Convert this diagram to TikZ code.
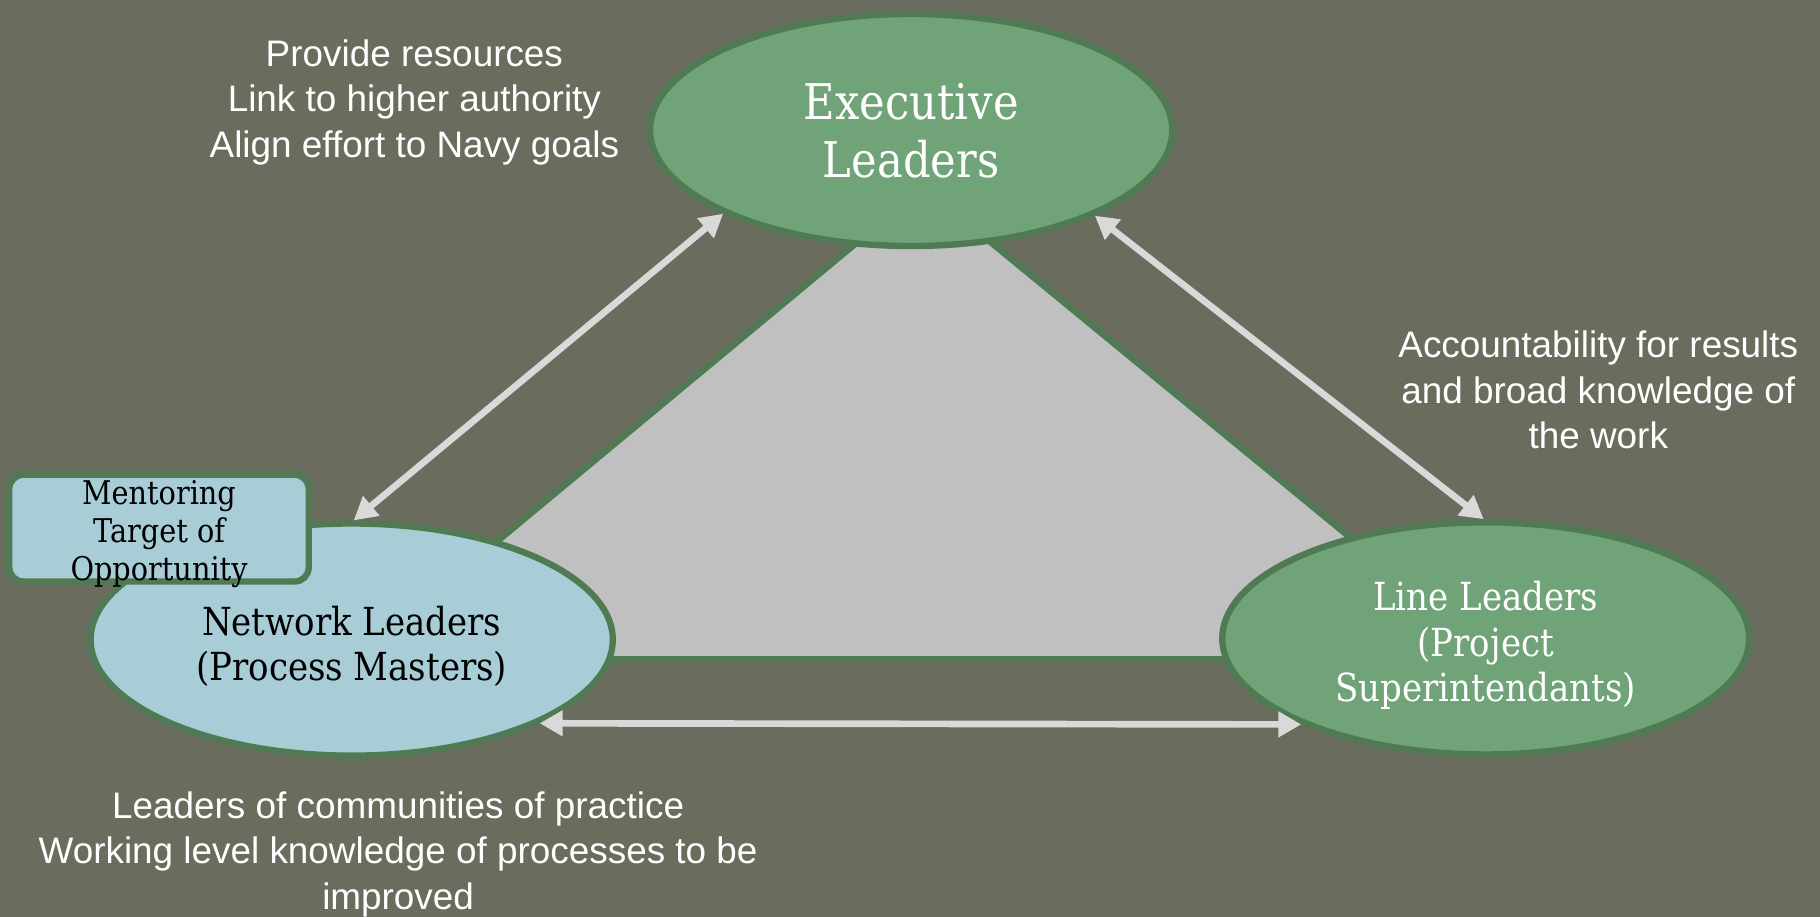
\documentclass[tikz,border=0pt]{standalone}
\usepackage{fontspec}
\setmainfont{Liberation Sans}
\newfontfamily\slabfont[FakeStretch=0.88]{DejaVu Serif}
\usetikzlibrary{shapes.geometric,arrows.meta}
\definecolor{bgc}{RGB}{106,108,94}
\definecolor{egreen}{RGB}{112,163,120}
\definecolor{bgreen}{RGB}{80,122,84}
\definecolor{lblue}{RGB}{168,205,214}
\definecolor{tgray}{RGB}{192,192,192}
\definecolor{agray}{RGB}{217,217,217}
\newlength{\pxu}
\setlength{\pxu}{0.3303pt}
\tikzset{
  leader/.style={ellipse, draw=bgreen, line width=1.8pt, inner sep=0pt,
    minimum width=450\pxu, minimum height=200\pxu},
  intext/.style={align=center, inner sep=0pt, font=\slabfont\fontsize{11}{12.9}\selectfont},
  note/.style={text=white, align=center, font=\fontsize{10.5}{12.9}\selectfont},
  link/.style={draw=agray, line width=1.9pt, {Triangle[length=6.5pt,width=7pt]}-{Triangle[length=6.5pt,width=7pt]}},
}
\begin{document}
\begin{tikzpicture}[x=0.011607cm, y=-0.011607cm]
\fill[bgc] (0,0) rectangle (1568,790);
\useasboundingbox (0,0) rectangle (1568,790);
% trapezoid
\draw[fill=tgray, draw=bgreen, line width=1.8pt, line join=miter] (749,200) -- (843,200) -- (1291,568) -- (306,568) -- cycle;
% ellipses
\node[leader, fill=egreen] (exec) at (785,112) {};
\node[align=center, inner sep=0pt, text=white, font=\slabfont\fontsize{14}{16.5}\selectfont] (exectext) at (785,113) {Executive\\Leaders};
\node[leader, fill=lblue] (net) at (303,551) {};
\node[intext, text=black] (nettext) at (303,557) {Network Leaders\\(Process Masters)};
\node[leader, fill=egreen, minimum width=454\pxu] (line) at (1280,550) {};
\node[intext, text=white] (linetext) at (1280,556) {Line Leaders\\(Project\\Superintendants)};
% mentoring box
\node[draw=bgreen, fill=lblue, line width=1.8pt, rounded corners=4pt, minimum width=258\pxu, minimum height=92\pxu, inner sep=0pt] (ment) at (137,455) {};
\node[align=center, inner sep=0pt, font=\slabfont\fontsize{9.3}{10.9}\selectfont] (mtext) at (137,460) {Mentoring\\Target of\\Opportunity};
% arrows
\draw[link] (net.89) -- (exec.204);
\draw[link] (exec.335.6) -- (line.91);
\draw[link] (net.-24.3) -- (line.205.6);
% notes
\node[note] (n1) at (357,88) {Provide resources\\Link to higher authority\\Align effort to Navy goals};
\node[note] (n2) at (1377,336) {Accountability for results\\and broad knowledge of\\the work};
\node[note] (n3) at (343,736) {Leaders of communities of practice\\Working level knowledge of processes to be\\improved};
\end{tikzpicture}
\end{document}
